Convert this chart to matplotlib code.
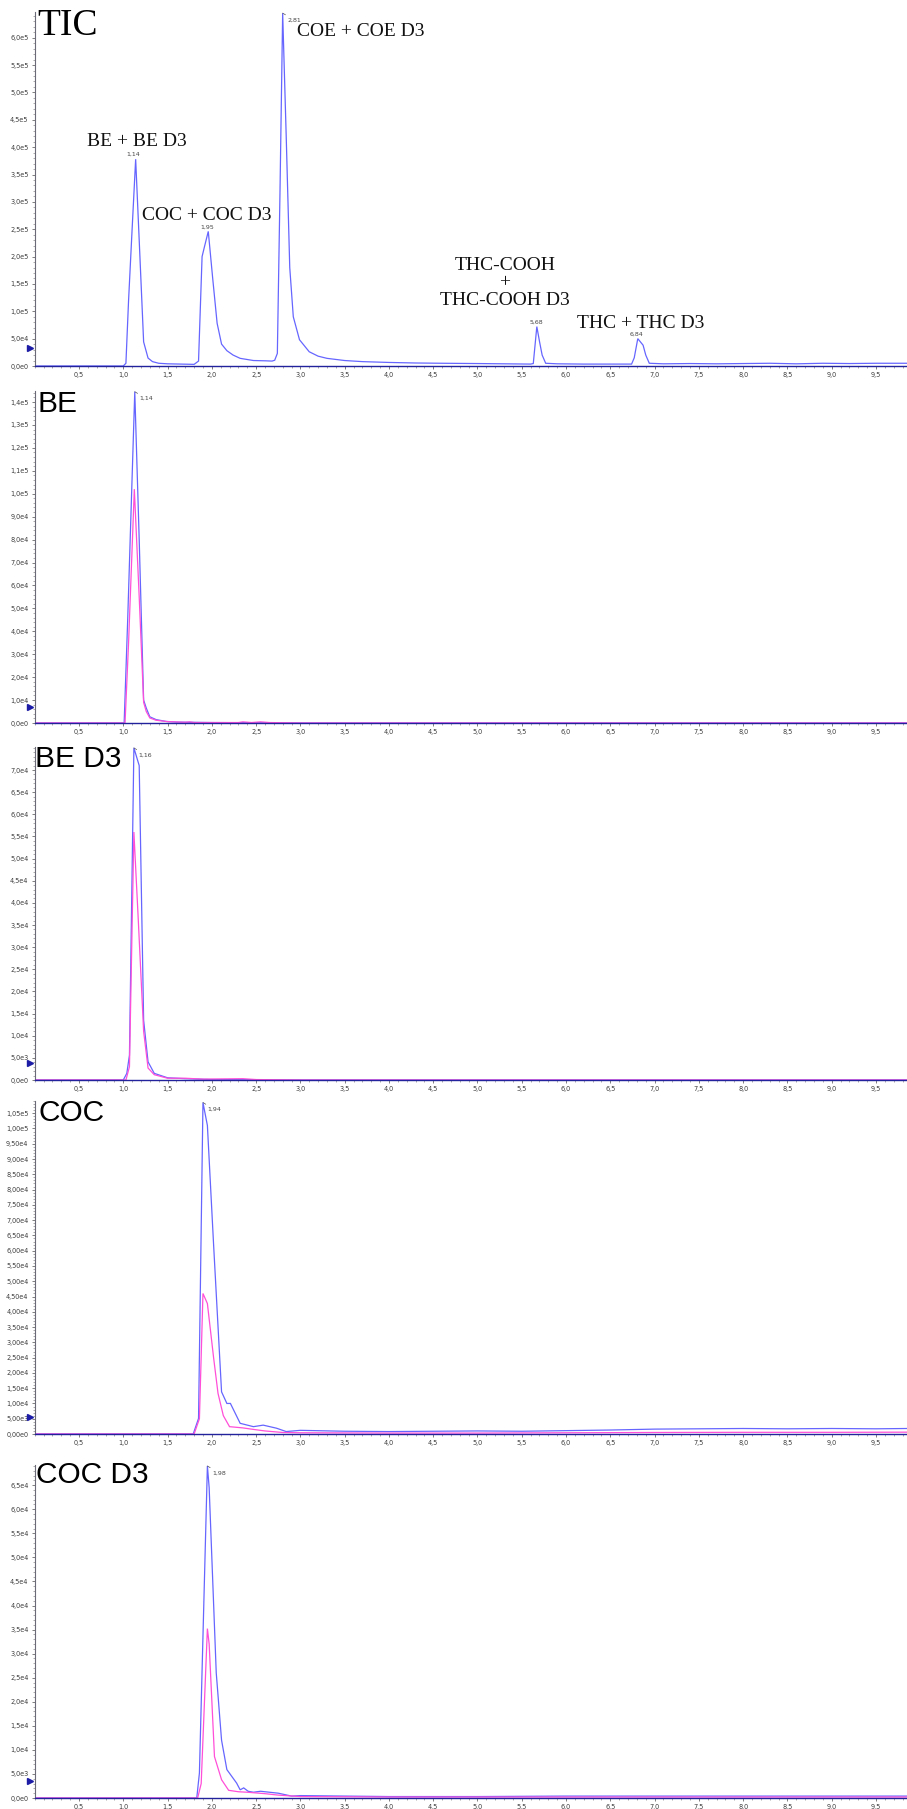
import numpy as np
import matplotlib
matplotlib.use("Agg")
import matplotlib.pyplot as plt
from matplotlib.ticker import MultipleLocator, AutoMinorLocator, FixedLocator

# ------------------------------------------------------------------ data
# TIC trace
tic_time = [0.00, 0.50, 1.00, 1.03, 1.06, 1.10, 1.14, 1.18, 1.23, 1.28, 1.33, 1.40, 1.50,
            1.65, 1.80, 1.85, 1.89, 1.92, 1.96, 2.01, 2.06, 2.11, 2.17, 2.24, 2.32, 2.47,
            2.60, 2.68, 2.71, 2.74, 2.77, 2.80, 2.84, 2.88, 2.92, 2.99, 3.10, 3.20, 3.30,
            3.50, 3.70, 4.00, 4.30, 4.60, 5.00, 5.30, 5.60, 5.63, 5.67, 5.70, 5.73, 5.77,
            5.90, 6.20, 6.50, 6.74, 6.77, 6.81, 6.87, 6.90, 6.94, 7.10, 7.40, 7.70, 8.00,
            8.30, 8.60, 8.90, 9.20, 9.50, 9.85]
tic_int = [0, 0, 0, 5e3, 1.2e5, 2.5e5, 3.78e5, 2.3e5, 4.4e4, 1.45e4, 8e3, 5e3, 4e3,
           3.5e3, 3e3, 9e3, 2.0e5, 2.2e5, 2.46e5, 1.6e5, 7.8e4, 4.0e4, 2.8e4, 2.0e4, 1.4e4, 1.0e4,
           9.5e3, 9e3, 1.05e4, 2.3e4, 3.2e5, 6.45e5, 4.2e5, 1.8e5, 9.0e4, 4.8e4, 2.6e4, 1.8e4, 1.4e4,
           1.0e4, 8e3, 6.5e3, 5.5e3, 5e3, 4.5e3, 4e3, 3.5e3, 4.5e3, 7.2e4, 4.5e4, 2.0e4, 5e3,
           4e3, 3.5e3, 3.5e3, 3.5e3, 1.5e4, 5.0e4, 3.8e4, 2.0e4, 5e3, 4e3, 4.5e3, 4e3, 4.5e3,
           5e3, 4e3, 5e3, 4.5e3, 5e3, 5e3]

# BE
be_time_blue = [0.0, 0.5, 1.01, 1.05, 1.13, 1.18, 1.23, 1.26, 1.30, 1.37, 1.48, 1.60, 1.80,
                2.00, 2.50, 3.00, 4.00, 5.00, 6.00, 7.00, 8.00, 9.00, 9.85]
be_blue = [0, 0, 0, 4.5e4, 1.445e5, 8.0e4, 1.0e4, 6.5e3, 2.7e3, 1.5e3, 7e2, 4e2, 3e2,
           2e2, 1e2, 0, 0, 0, 0, 0, 0, 0, 0]
be_time_pink = [0.0, 1.02, 1.06, 1.125, 1.18, 1.23, 1.26, 1.30, 1.37, 1.50, 1.70, 1.75, 1.80,
                2.30, 2.35, 2.45, 2.55, 2.65, 3.00, 9.85]
be_pink = [0, 0, 3.5e4, 1.02e5, 5.5e4, 9e3, 5e3, 2.2e3, 1.2e3, 6e2, 3e2, 5e2, 2e2,
           2e2, 5e2, 2e2, 5e2, 2e2, 0, 0]

# BE D3
bed3_time_blue = [0.0, 0.5, 1.00, 1.04, 1.07, 1.12, 1.18, 1.23, 1.28, 1.35, 1.50, 1.70,
                  2.00, 2.50, 3.00, 9.85]
bed3_blue = [0, 0, 0, 1.5e3, 5.6e3, 7.5e4, 7.1e4, 1.35e4, 4.1e3, 1.5e3, 5e2, 3e2,
             1e2, 50, 0, 0]
bed3_time_pink = [0.0, 1.03, 1.07, 1.12, 1.17, 1.23, 1.28, 1.35, 1.50, 1.70, 1.90, 2.35,
                  2.50, 3.00, 9.85]
bed3_pink = [0, 0, 3e3, 5.6e4, 3.6e4, 1.1e4, 2.7e3, 1.2e3, 4e2, 4e2, 2e2, 3e2,
             1e2, 0, 0]

# COC
coc_time_blue = [0.0, 1.50, 1.79, 1.85, 1.90, 1.95, 2.02, 2.11, 2.17, 2.21, 2.32, 2.47,
                 2.58, 2.73, 2.84, 3.00, 3.50, 4.00, 4.50, 5.00, 5.50, 6.00, 6.50, 7.00,
                 7.50, 8.00, 8.50, 9.00, 9.50, 9.85]
coc_blue = [0, 0, 0, 5.1e3, 1.085e5, 1.01e5, 6.2e4, 1.38e4, 1.0e4, 1.0e4, 3.5e3, 2.4e3,
            2.9e3, 1.9e3, 8e2, 1.2e3, 9e2, 8e2, 9e2, 1.0e3, 9e2, 1.1e3, 1.3e3, 1.6e3,
            1.7e3, 1.8e3, 1.7e3, 1.8e3, 1.7e3, 1.8e3]
coc_time_pink = [0.0, 1.80, 1.86, 1.90, 1.95, 2.02, 2.07, 2.13, 2.20, 2.35, 2.47, 2.60,
                 2.80, 3.00, 4.00, 5.00, 6.00, 7.00, 8.00, 9.00, 9.85]
coc_pink = [0, 0, 5e3, 4.6e4, 4.27e4, 2.5e4, 1.33e4, 6e3, 2.4e3, 2.0e3, 1.5e3, 1.0e3,
            5e2, 4e2, 3e2, 3e2, 4e2, 5e2, 5.5e2, 5.5e2, 6e2]

# COC D3
cocd3_time_blue = [0.0, 1.83, 1.86, 1.95, 1.97, 2.05, 2.11, 2.17, 2.28, 2.32, 2.36, 2.41,
                   2.47, 2.55, 2.65, 2.75, 2.90, 3.00, 3.50, 4.00, 5.00, 6.00, 7.00, 8.00,
                   9.00, 9.85]
cocd3_blue = [0, 0, 5.2e3, 6.9e4, 6.45e4, 2.6e4, 1.2e4, 5.9e3, 3.1e3, 1.7e3, 2.1e3, 1.4e3,
              1.2e3, 1.4e3, 1.2e3, 1.0e3, 4e2, 5e2, 4e2, 3e2, 3e2, 4e2, 4e2, 4e2,
              4e2, 4e2]
cocd3_time_pink = [0.0, 1.84, 1.88, 1.95, 1.97, 2.03, 2.11, 2.19, 2.30, 2.40, 2.60, 2.75,
                   3.00, 4.00, 6.00, 8.00, 9.85]
cocd3_pink = [0, 0, 3e3, 3.52e4, 3.2e4, 8.6e3, 3.8e3, 1.6e3, 1.3e3, 1.2e3, 9e2, 6e2,
              3e2, 2e2, 2e2, 2e2, 2e2]

# panel names, axis ranges, tick steps, marker levels
panel_names = ["TIC", "BE", "BE D3", "COC", "COC D3"]
y_max = [6.47e5, 1.448e5, 7.52e4, 1.09e5, 6.92e4]
y_step = [0.5e5, 1.0e4, 5.0e3, 5.0e3, 5.0e3]
y_top_tick = [6.0e5, 1.4e5, 7.0e4, 1.05e5, 6.5e4]
y_decimals = [1, 1, 1, 2, 1]
arrow_levels = [3.3e4, 7.1e3, 3.9e3, 5.65e3, 3.5e3]
x_ticks = [0.5, 1.0, 1.5, 2.0, 2.5, 3.0, 3.5, 4.0, 4.5, 5.0, 5.5, 6.0, 6.5, 7.0, 7.5,
           8.0, 8.5, 9.0, 9.5]
x_max = 9.85

# peak labels (text, rt, intensity)
tic_peak_labels = [("1,14", 1.11, 3.78e5), ("1,95", 1.95, 2.46e5), ("5,68", 5.66, 7.2e4),
                   ("6,84", 6.80, 5.0e4)]
tic_hook_label = ("2,81", 2.80, 6.45e5)
panel_hook_labels = [("1,14", 1.13, 1.445e5), ("1,16", 1.12, 7.5e4),
                     ("1,94", 1.90, 1.085e5), ("1,98", 1.95, 6.9e4)]

compound_labels = ["BE + BE D3", "COC + COC D3", "COE + COE D3",
                   "THC-COOH\n+\nTHC-COOH D3", "THC + THC D3"]
compound_pos = [(1.15, 4.1e5, "center"), (1.94, 2.75e5, "center"), (2.96, 6.12e5, "left"),
                (5.31, 1.52e5, "center"), (6.84, 7.8e4, "center")]

traces = [
    [(tic_time, tic_int, "blue")],
    [(be_time_blue, be_blue, "blue"), (be_time_pink, be_pink, "pink")],
    [(bed3_time_blue, bed3_blue, "blue"), (bed3_time_pink, bed3_pink, "pink")],
    [(coc_time_blue, coc_blue, "blue"), (coc_time_pink, coc_pink, "pink")],
    [(cocd3_time_blue, cocd3_blue, "blue"), (cocd3_time_pink, cocd3_pink, "pink")],
]

# ------------------------------------------------------------------ layout / style
W, H = 907, 1809
fig = plt.figure(figsize=(W / 100, H / 100), dpi=100)
fig.patch.set_facecolor("white")

LEFT = 34.7
panel_px = [(12, 366), (391, 723), (747, 1080), (1101, 1434), (1465, 1798)]
title_px = [(37, 35), (38, 411.7), (35, 766.7), (39, 1120.7), (36, 1483.3)]

COLORS = {"blue": "#6666ff", "pink": "#ff4fd8"}
TICK_FONT = "DejaVu Sans"


def fmt_sci(v, d):
    if v == 0:
        return "0," + "0" * d + "e0"
    e = int(np.floor(np.log10(v) + 1e-9))
    m = v / 10 ** e
    return f"{m:.{d}f}".replace(".", ",") + f"e{e}"


axes = []
for i, name in enumerate(panel_names):
    top, bot = panel_px[i]
    ax = fig.add_axes([LEFT / W, 1 - bot / H, (W - LEFT) / W, (bot - top) / H])
    axes.append(ax)
    for t, v, c in traces[i]:
        ax.plot(t, v, color=COLORS[c], lw=0.9, zorder=2 if c == "blue" else 2.1,
                solid_joinstyle="miter")
    ax.set_xlim(0, x_max)
    ax.set_ylim(0, y_max[i])

    for s in ("top", "right"):
        ax.spines[s].set_visible(False)
    ax.spines["left"].set_color("#6a6a78")
    ax.spines["left"].set_linewidth(0.8)
    ax.spines["bottom"].set_color("#22229c")
    ax.spines["bottom"].set_linewidth(1.0)
    ax.spines["left"].set_zorder(3)
    ax.spines["bottom"].set_zorder(3)

    ax.xaxis.set_major_locator(FixedLocator(x_ticks))
    ax.set_xticklabels([f"{v:.1f}".replace(".", ",") for v in x_ticks])
    ax.xaxis.set_minor_locator(MultipleLocator(0.1))

    yt = list(np.arange(0, y_top_tick[i] + y_step[i] * 0.01, y_step[i]))
    ax.yaxis.set_major_locator(FixedLocator(yt))
    ax.set_yticklabels([fmt_sci(v, y_decimals[i]) for v in yt])
    ax.yaxis.set_minor_locator(AutoMinorLocator(5))

    ax.tick_params(which="major", length=2.2, width=0.6, color="#6a6a6a",
                   labelsize=4.7, labelcolor="#3c3c3c", pad=2.3)
    ax.tick_params(which="minor", length=1.2, width=0.5, color="#8a8a8a")
    for lab in ax.get_xticklabels() + ax.get_yticklabels():
        lab.set_fontfamily(TICK_FONT)

    # small blue level marker left of the axis
    ax.plot([-0.052], [arrow_levels[i]], marker=">", ms=4.2, color="#1c1ca6",
            clip_on=False, zorder=5, lw=0)

    # panel title
    tx, ty = title_px[i]
    if i == 0:
        fig.text(tx / W, 1 - ty / H, name, family="Liberation Serif", fontsize=27,
                 va="baseline", ha="left", color="black")
    else:
        fig.text(tx / W, 1 - ty / H, name, family="Liberation Sans", fontsize=21.5,
                 va="baseline", ha="left", color="black")

# TIC annotations
ax0 = axes[0]
for txt, x, y in tic_peak_labels:
    ax0.annotate(txt, xy=(x, y), xytext=(0, 2), textcoords="offset pixels",
                 ha="center", va="bottom", fontsize=4.5, color="#444444",
                 family=TICK_FONT)


def hook(ax, txt, x, y):
    ax.annotate(txt, xy=(x, y), xytext=(4.5, -7), textcoords="offset pixels",
                ha="left", va="center", fontsize=4.5, color="#444444", family=TICK_FONT,
                arrowprops=dict(arrowstyle="-", color="#555555", lw=0.5,
                                shrinkA=0, shrinkB=0), annotation_clip=False)


hook(ax0, *tic_hook_label)
for j, (txt, x, y) in enumerate(panel_hook_labels):
    hook(axes[j + 1], txt, x, y)

for s, (x, y, ha) in zip(compound_labels, compound_pos):
    ax0.text(x, y, s, ha=ha, va="center", family="Liberation Serif", fontsize=14,
             color="#111111", linespacing=1.05, multialignment="center")

fig.savefig("out.png", dpi=100, facecolor="white")
